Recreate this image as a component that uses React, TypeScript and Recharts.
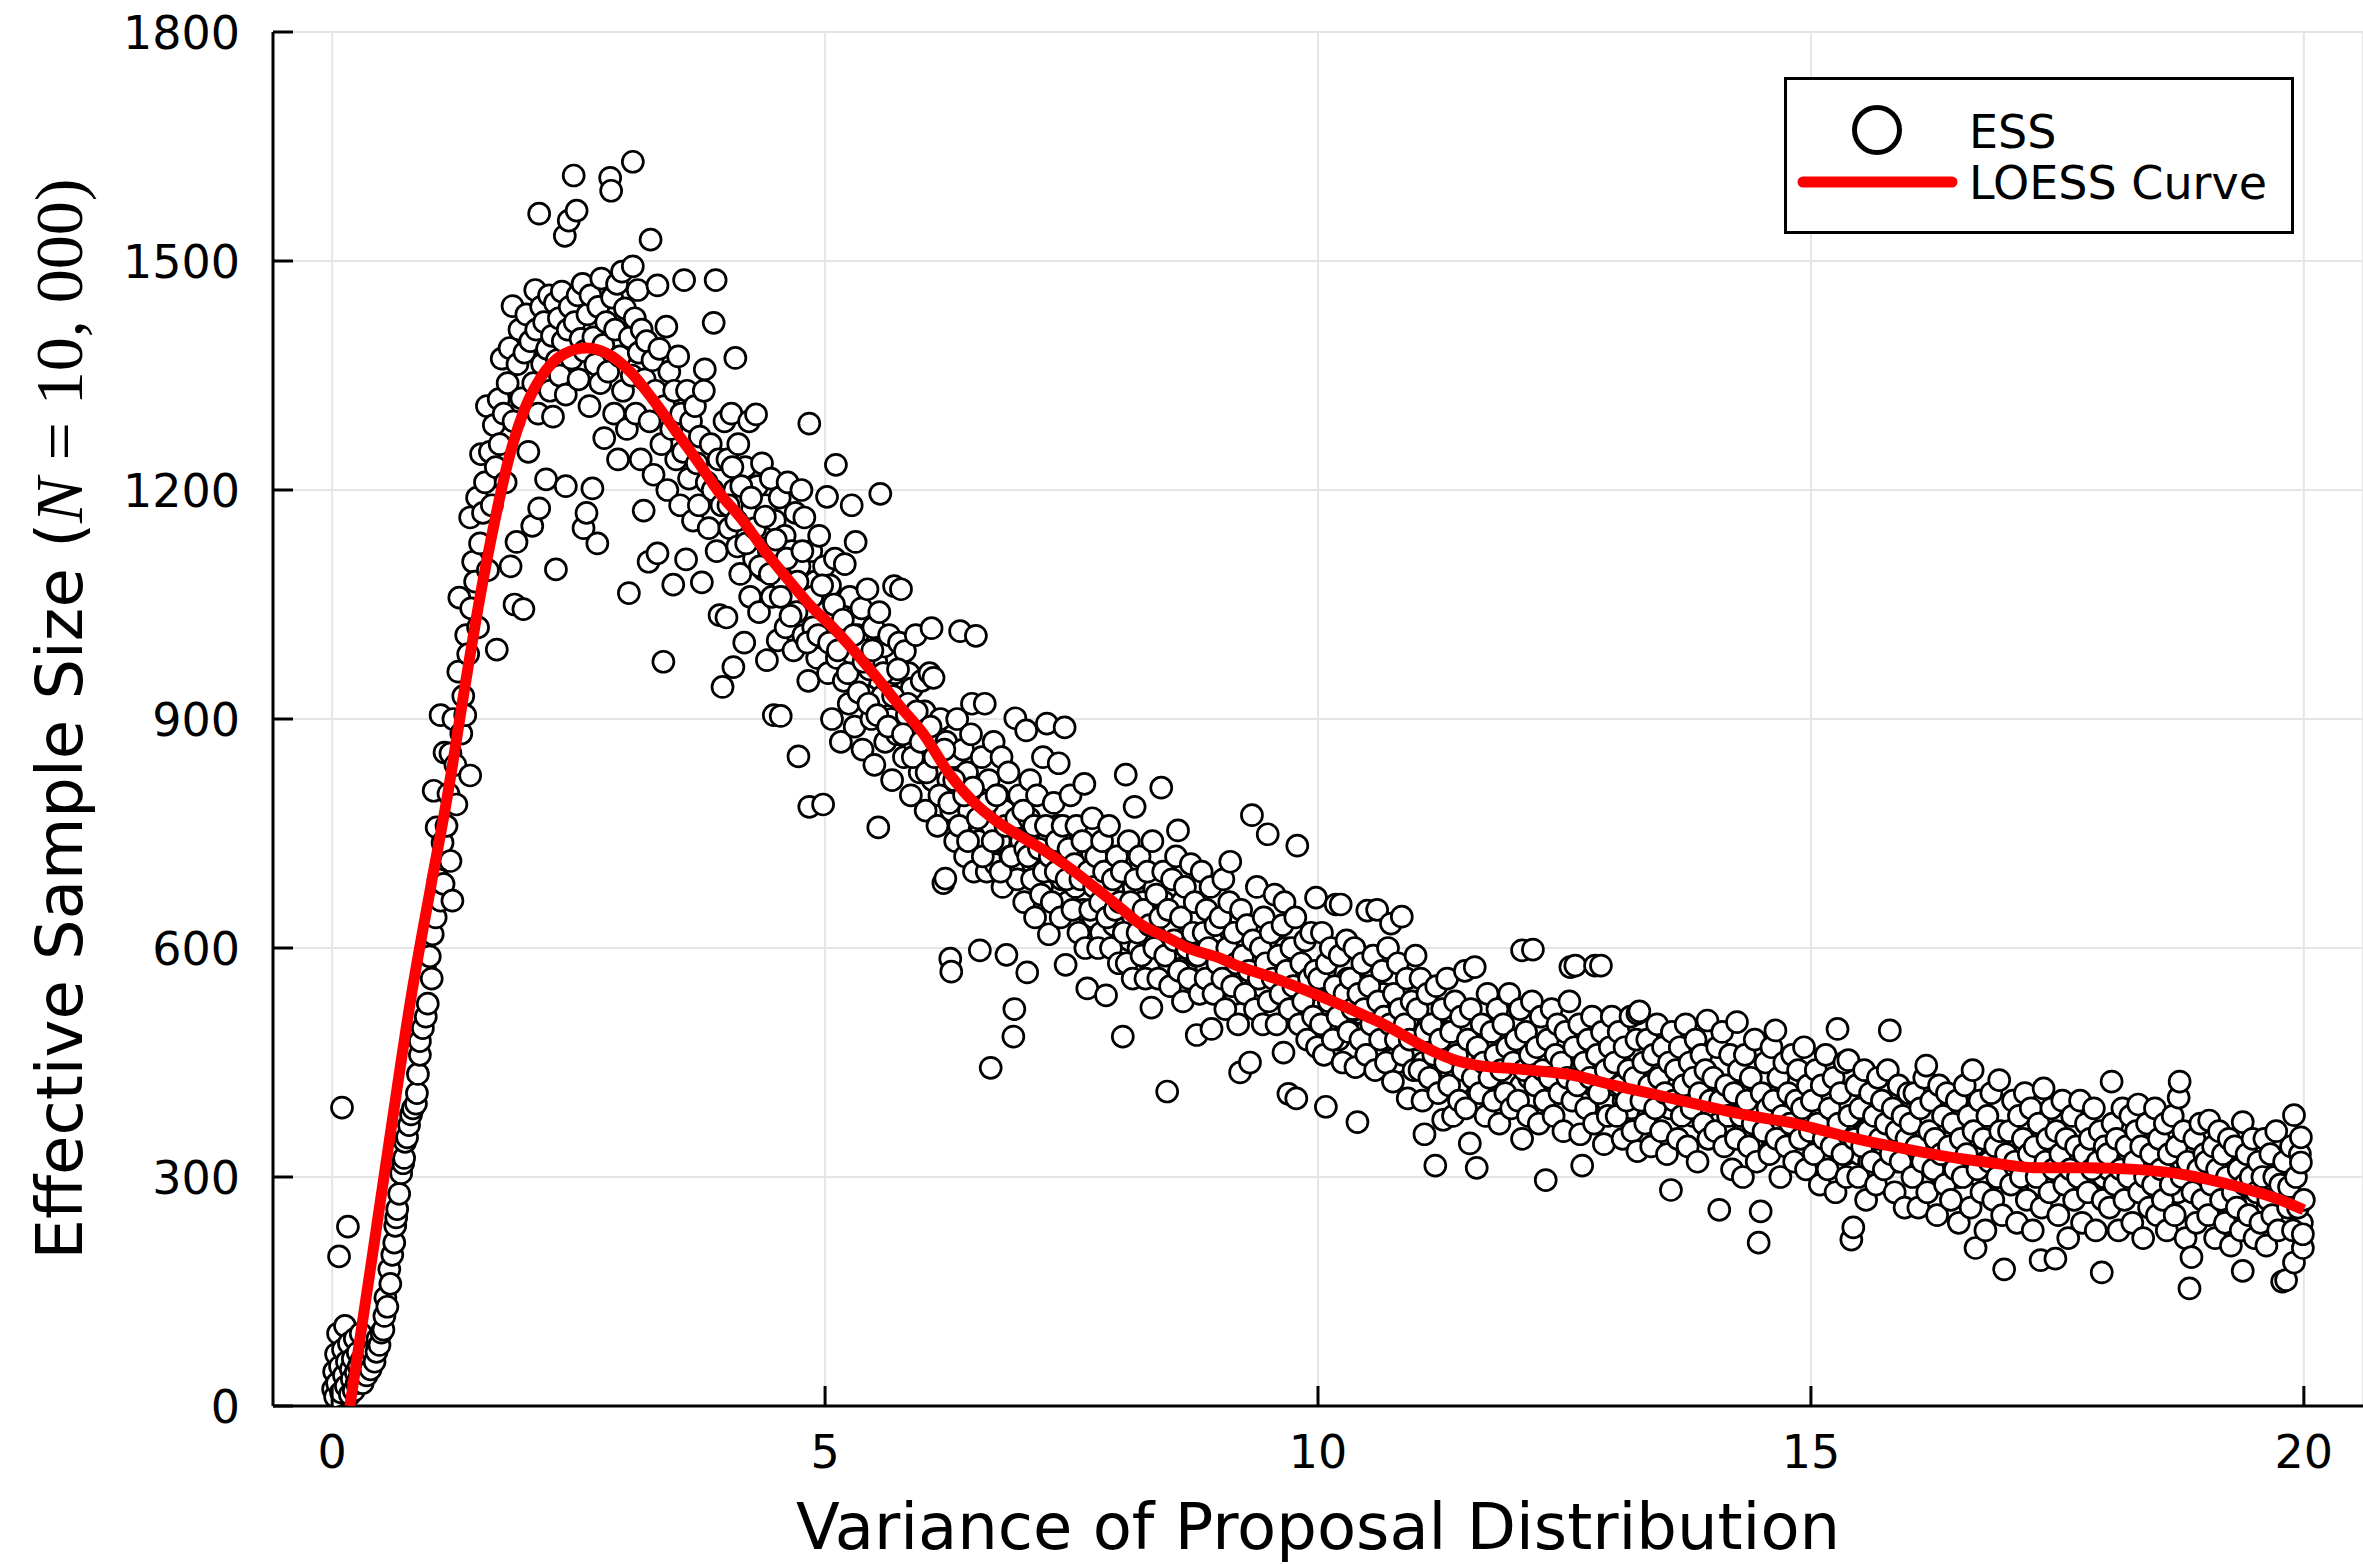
import React from "react";
import {
  ComposedChart,
  Scatter,
  XAxis,
  YAxis,
  CartesianGrid,
  Legend,
} from "recharts";

// ---- ESS observations: [proposal variance, effective sample size] ----
const essRise: [number, number][] = [
  [0.01, 22], [0.02, 45], [0.03, 12], [0.04, 68], [0.05, 30], [0.06, 95], [0.07, 196], [0.08, 52], [0.09, 18], [0.1, 391],
  [0.11, 74], [0.12, 40], [0.13, 105], [0.14, 26], [0.15, 58], [0.16, 235], [0.17, 82], [0.18, 15], [0.19, 48], [0.2, 35],
  [0.21, 62], [0.22, 20], [0.23, 88], [0.24, 44], [0.25, 30], [0.26, 70], [0.27, 52], [0.28, 38], [0.29, 95], [0.3, 60],
  [0.31, 30], [0.33, 52], [0.35, 40], [0.37, 62], [0.39, 48], [0.41, 70], [0.43, 58], [0.45, 71], [0.46, 88], [0.48, 80],
  [0.5, 96], [0.52, 100], [0.53, 118], [0.54, 142], [0.56, 130], [0.58, 179], [0.59, 160], [0.61, 198], [0.63, 214], [0.64, 236],
  [0.65, 247], [0.66, 258], [0.68, 278], [0.7, 305], [0.72, 318], [0.73, 325], [0.74, 346], [0.76, 352], [0.78, 368], [0.8, 382],
  [0.82, 390], [0.85, 396], [0.86, 410], [0.87, 435], [0.89, 460], [0.89, 478], [0.92, 495], [0.95, 510], [0.94, 574], [0.97, 527],
  [0.99, 589], [1.01, 560], [1.02, 618], [1.03, 806], [1.05, 640], [1.06, 758], [1.08, 690], [1.1, 662], [1.1, 905], [1.12, 738],
  [1.13, 684], [1.14, 856], [1.16, 760], [1.18, 802], [1.2, 714], [1.2, 855], [1.22, 662], [1.23, 900], [1.25, 840], [1.26, 788],
  [1.28, 962], [1.29, 1059], [1.31, 881], [1.33, 930], [1.35, 905], [1.36, 1010], [1.38, 985], [1.4, 826], [1.4, 1164], [1.41, 1045],
  [1.43, 1106], [1.45, 1080], [1.47, 1190], [1.48, 1020], [1.5, 1130], [1.51, 1247], [1.53, 1170], [1.55, 1210], [1.57, 1310], [1.58, 1095],
  [1.6, 1250], [1.62, 1180], [1.64, 1285], [1.66, 1230], [1.67, 991], [1.69, 1319], [1.7, 1260], [1.72, 1372], [1.74, 1300], [1.76, 1210],
  [1.78, 1340], [1.8, 1386], [1.81, 1100], [1.83, 1441], [1.84, 1290], [1.85, 1050], [1.87, 1132], [1.88, 1365], [1.9, 1410], [1.92, 1320],
  [1.94, 1044], [1.95, 1380], [1.97, 1430], [1.99, 1250],
];

const essPeak: [number, number][] = [
  [2.01, 1395], [2.03, 1153], [2.04, 1340], [2.06, 1462], [2.07, 1410], [2.09, 1300], [2.1, 1562], [2.1, 1176], [2.12, 1440], [2.13, 1365],
  [2.15, 1420], [2.17, 1214], [2.18, 1385], [2.2, 1455], [2.21, 1330], [2.23, 1402], [2.24, 1296], [2.26, 1445], [2.27, 1096], [2.28, 1370],
  [2.3, 1425], [2.31, 1350], [2.33, 1460], [2.34, 1395], [2.36, 1533], [2.37, 1205], [2.37, 1325], [2.39, 1410], [2.4, 1553], [2.41, 1440],
  [2.43, 1372], [2.45, 1612], [2.46, 1420], [2.48, 1566], [2.49, 1455], [2.5, 1345], [2.52, 1398], [2.54, 1470], [2.55, 1150], [2.56, 1382],
  [2.58, 1170], [2.59, 1430], [2.61, 1310], [2.62, 1455], [2.64, 1202], [2.65, 1400], [2.67, 1365], [2.69, 1130], [2.7, 1440], [2.72, 1340],
  [2.73, 1477], [2.75, 1390], [2.76, 1268], [2.78, 1420], [2.8, 1355], [2.82, 1609], [2.83, 1592], [2.84, 1452], [2.86, 1300], [2.87, 1410],
  [2.89, 1470], [2.9, 1240], [2.92, 1375], [2.94, 1486], [2.95, 1330], [2.97, 1438], [2.99, 1280],
  [3.01, 1065], [3.02, 1400], [3.04, 1350], [3.05, 1630], [3.05, 1493], [3.07, 1425], [3.08, 1300], [3.1, 1462], [3.11, 1380], [3.13, 1240],
  [3.14, 1410], [3.16, 1173], [3.17, 1345], [3.19, 1395], [3.21, 1106], [3.22, 1290], [3.23, 1528], [3.25, 1370], [3.26, 1220], [3.28, 1330],
  [3.3, 1468], [3.3, 1117], [3.32, 1385], [3.34, 1260], [3.36, 975], [3.37, 1310], [3.39, 1414], [3.4, 1200], [3.42, 1355], [3.44, 1280],
  [3.46, 1076], [3.47, 1330], [3.49, 1240], [3.51, 1375], [3.53, 1180], [3.54, 1300], [3.56, 1250], [3.57, 1475], [3.59, 1109], [3.6, 1330],
  [3.62, 1215], [3.64, 1290], [3.66, 1160], [3.68, 1310], [3.7, 1235], [3.72, 1180], [3.73, 1270], [3.75, 1079], [3.77, 1330], [3.78, 1358],
  [3.8, 1210], [3.82, 1150], [3.84, 1260], [3.86, 1200], [3.87, 1419], [3.89, 1475], [3.9, 1120], [3.92, 1240], [3.93, 1036], [3.95, 1180],
  [3.96, 942], [3.98, 1290],
];

const essDecay: [number, number][] = [
  [4.0, 1033], [4.01, 1240], [4.03, 1150], [4.05, 1300], [4.07, 968], [4.08, 1200], [4.09, 1373], [4.11, 1126], [4.12, 1260], [4.14, 1090],
  [4.16, 1180], [4.18, 1000], [4.19, 1230], [4.21, 1140], [4.23, 1290], [4.24, 1060], [4.26, 1175], [4.28, 1110], [4.3, 1299], [4.31, 1205],
  [4.33, 1040], [4.35, 1150], [4.36, 1235], [4.38, 1095], [4.4, 1180], [4.41, 977], [4.43, 1120], [4.45, 1215], [4.46, 1060], [4.48, 905],
  [4.49, 1160], [4.51, 1100], [4.52, 1003], [4.54, 1190], [4.55, 904], [4.57, 1080], [4.59, 1140], [4.6, 1020], [4.62, 1210], [4.64, 1060],
  [4.66, 1120], [4.68, 990], [4.7, 1170], [4.71, 1040], [4.73, 851], [4.74, 1100], [4.76, 1200], [4.78, 1010], [4.79, 1164], [4.81, 1070],
  [4.83, 950], [4.84, 1287], [4.84, 785], [4.86, 1120], [4.88, 1020], [4.9, 1080], [4.92, 980], [4.94, 1140], [4.96, 1050], [4.98, 788],
  [4.99, 1100],
  [5.01, 1040], [5.02, 1191], [5.03, 960], [5.05, 1075], [5.07, 900], [5.08, 1010], [5.1, 1110], [5.11, 1233], [5.12, 980], [5.14, 1050],
  [5.16, 870], [5.17, 1020], [5.19, 950], [5.2, 1103], [5.22, 1000], [5.24, 920], [5.25, 1060], [5.27, 1180], [5.28, 985], [5.3, 890],
  [5.31, 1132], [5.33, 1010], [5.35, 950], [5.37, 1045], [5.38, 860], [5.4, 990], [5.42, 930], [5.43, 1070], [5.45, 965], [5.47, 900],
  [5.49, 1020], [5.5, 840], [5.52, 975], [5.54, 758], [5.55, 1040], [5.56, 1195], [5.58, 930], [5.6, 995], [5.61, 870], [5.63, 950],
  [5.65, 1010], [5.67, 900], [5.68, 820], [5.7, 1074], [5.71, 960], [5.73, 880], [5.75, 1000], [5.77, 1070], [5.78, 925], [5.8, 850],
  [5.81, 989], [5.83, 905], [5.85, 960], [5.87, 800], [5.88, 940], [5.9, 870], [5.92, 1010], [5.94, 890], [5.96, 830], [5.98, 950],
  [6.01, 910], [6.02, 780], [6.04, 860], [6.06, 960], [6.08, 1019], [6.09, 820], [6.1, 954], [6.12, 880], [6.14, 760], [6.15, 840],
  [6.17, 900], [6.19, 800], [6.2, 685], [6.22, 691], [6.23, 870], [6.25, 820], [6.27, 586], [6.28, 569], [6.28, 780], [6.3, 850],
  [6.32, 740], [6.34, 900], [6.35, 810], [6.37, 1015], [6.38, 760], [6.4, 860], [6.42, 720], [6.44, 830], [6.46, 780], [6.48, 880],
  [6.49, 920], [6.51, 700], [6.53, 1009], [6.54, 800], [6.56, 740], [6.57, 597], [6.59, 850], [6.61, 770], [6.62, 920], [6.64, 700],
  [6.66, 820], [6.68, 443], [6.69, 760], [6.71, 870], [6.73, 710], [6.75, 800], [6.77, 740], [6.79, 850], [6.8, 680], [6.82, 780],
  [6.84, 591], [6.86, 830], [6.88, 720], [6.9, 760], [6.91, 484], [6.92, 520], [6.93, 901], [6.95, 690], [6.97, 800], [6.99, 740],
];

const essMid: [number, number][] = [
  [7.01, 780], [7.02, 660], [7.04, 885], [7.05, 568], [7.06, 720], [7.08, 820], [7.1, 690], [7.12, 760], [7.13, 640], [7.15, 800],
  [7.17, 730], [7.19, 670], [7.21, 850], [7.22, 700], [7.24, 760], [7.25, 894], [7.27, 618], [7.28, 720], [7.3, 660], [7.32, 790],
  [7.34, 700], [7.35, 740], [7.37, 842], [7.39, 640], [7.41, 760], [7.43, 889], [7.44, 578], [7.45, 690], [7.47, 730], [7.49, 800],
  [7.51, 650], [7.53, 710], [7.55, 760], [7.57, 620], [7.59, 690], [7.61, 740], [7.63, 815], [7.64, 600], [7.66, 547], [7.67, 700],
  [7.69, 650], [7.71, 770], [7.73, 680], [7.75, 720], [7.77, 600], [7.79, 660], [7.81, 740], [7.83, 700], [7.85, 538], [7.86, 640],
  [7.88, 760], [7.9, 600], [7.92, 690], [7.94, 650], [7.96, 720], [7.98, 580], [7.99, 660],
  [8.01, 700], [8.02, 484], [8.03, 620], [8.05, 827], [8.06, 580], [8.08, 740], [8.1, 660], [8.12, 560], [8.14, 785], [8.15, 690],
  [8.17, 620], [8.19, 720], [8.21, 590], [8.23, 650], [8.25, 560], [8.27, 700], [8.29, 630], [8.31, 522], [8.32, 740], [8.34, 600],
  [8.36, 670], [8.38, 560], [8.4, 640], [8.41, 810], [8.43, 700], [8.45, 590], [8.47, 412], [8.48, 650], [8.5, 550], [8.52, 690],
  [8.54, 610], [8.56, 720], [8.58, 754], [8.59, 570], [8.61, 640], [8.63, 530], [8.65, 680], [8.67, 600], [8.69, 560], [8.71, 710],
  [8.73, 620], [8.75, 660], [8.77, 486], [8.78, 590], [8.8, 540], [8.82, 700], [8.84, 620], [8.86, 560], [8.87, 650], [8.89, 600],
  [8.91, 680], [8.92, 494], [8.94, 540], [8.96, 630], [8.98, 580],
  [9.01, 640], [9.03, 560], [9.04, 690], [9.06, 520], [9.08, 600], [9.1, 660], [9.11, 713], [9.13, 550], [9.15, 620], [9.17, 580],
  [9.19, 500], [9.21, 437], [9.22, 650], [9.24, 590], [9.26, 540], [9.28, 630], [9.3, 570], [9.31, 450], [9.33, 774], [9.34, 610],
  [9.36, 520], [9.38, 680], [9.4, 560], [9.42, 600], [9.44, 500], [9.45, 640], [9.47, 580], [9.49, 749], [9.5, 530], [9.52, 620],
  [9.54, 560], [9.56, 670], [9.58, 500], [9.6, 590], [9.62, 540], [9.64, 630], [9.65, 463], [9.66, 660], [9.68, 570], [9.7, 409],
  [9.71, 520], [9.73, 600], [9.75, 550], [9.77, 640], [9.78, 403], [9.79, 734], [9.81, 500], [9.83, 580], [9.85, 530], [9.87, 610],
  [9.89, 480], [9.91, 560], [9.93, 620], [9.95, 510], [9.97, 570], [9.98, 666], [9.99, 470],
];

const essLate: [number, number][] = [
  [10.01, 560], [10.03, 500], [10.04, 620], [10.06, 460], [10.08, 392], [10.09, 580], [10.11, 530], [10.13, 600], [10.15, 480], [10.17, 550],
  [10.18, 657], [10.2, 510], [10.22, 590], [10.23, 657], [10.25, 450], [10.27, 540], [10.29, 610], [10.31, 490], [10.33, 560], [10.35, 520],
  [10.37, 600], [10.38, 444], [10.4, 372], [10.41, 540], [10.43, 480], [10.45, 580], [10.47, 520], [10.49, 460], [10.5, 649], [10.52, 550],
  [10.54, 500], [10.56, 590], [10.58, 440], [10.6, 650], [10.61, 530], [10.63, 480], [10.65, 570], [10.67, 510], [10.69, 450], [10.71, 600],
  [10.73, 500], [10.74, 632], [10.76, 425], [10.77, 540], [10.79, 480], [10.81, 580], [10.83, 520], [10.85, 641], [10.86, 460], [10.88, 500],
  [10.9, 560], [10.91, 403], [10.93, 480], [10.95, 530], [10.97, 440], [10.99, 590],
  [11.01, 520], [11.03, 440], [11.04, 560], [11.06, 400], [11.08, 356], [11.09, 490], [11.11, 540], [11.13, 430], [11.15, 500], [11.17, 460],
  [11.19, 315], [11.2, 550], [11.22, 410], [11.24, 480], [11.26, 520], [11.27, 375], [11.29, 450], [11.31, 560], [11.33, 420], [11.35, 490],
  [11.37, 380], [11.39, 530], [11.41, 460], [11.43, 400], [11.45, 510], [11.47, 440], [11.49, 570], [11.5, 390], [11.52, 480], [11.54, 344],
  [11.55, 520], [11.57, 430], [11.59, 575], [11.61, 312], [11.62, 470], [11.64, 410], [11.66, 500], [11.68, 450], [11.7, 380], [11.72, 540],
  [11.74, 430], [11.76, 490], [11.78, 400], [11.8, 460], [11.82, 520], [11.84, 370], [11.86, 440], [11.88, 500], [11.9, 410], [11.92, 470],
  [11.94, 540], [11.96, 390], [11.98, 450],
  [12.01, 480], [12.03, 400], [12.05, 520], [12.07, 350], [12.07, 597], [12.09, 440], [12.11, 490], [12.13, 380], [12.15, 460], [12.17, 530],
  [12.18, 598], [12.2, 420], [12.22, 470], [12.24, 370], [12.26, 510], [12.28, 440], [12.3, 400], [12.31, 296], [12.33, 480], [12.35, 430],
  [12.37, 520], [12.39, 380], [12.41, 460], [12.43, 500], [12.45, 410], [12.47, 450], [12.49, 360], [12.51, 490], [12.53, 430], [12.55, 530],
  [12.56, 575], [12.58, 400], [12.6, 470], [12.61, 577], [12.63, 420], [12.65, 500], [12.66, 356], [12.68, 315], [12.7, 450], [12.72, 390],
  [12.74, 480], [12.76, 430], [12.78, 510], [12.8, 370], [12.81, 577], [12.83, 460], [12.85, 410], [12.87, 577], [12.88, 490], [12.9, 343],
  [12.92, 440], [12.94, 380], [12.96, 470], [12.98, 510],
  [13.01, 450], [13.03, 380], [13.05, 490], [13.07, 420], [13.09, 350], [13.11, 470], [13.13, 400], [13.15, 440], [13.17, 510], [13.19, 360],
  [13.21, 430], [13.23, 480], [13.24, 334], [13.24, 514], [13.26, 517], [13.28, 400], [13.3, 450], [13.32, 370], [13.34, 480], [13.36, 420],
  [13.38, 340], [13.4, 460], [13.42, 390], [13.44, 500], [13.46, 430], [13.48, 360], [13.5, 470], [13.52, 410], [13.54, 330], [13.56, 450],
  [13.58, 283], [13.59, 490], [13.61, 400], [13.63, 440], [13.65, 350], [13.67, 470], [13.69, 380], [13.71, 420], [13.73, 500], [13.75, 340],
  [13.77, 450], [13.79, 390], [13.81, 430], [13.83, 480], [13.85, 320], [13.87, 410], [13.89, 460], [13.91, 370], [13.93, 440], [13.95, 505],
  [13.96, 350], [13.98, 400],
];

const essTail: [number, number][] = [
  [14.01, 430], [14.03, 360], [14.05, 470], [14.07, 257], [14.08, 400], [14.1, 490], [14.12, 340], [14.14, 420], [14.16, 380], [14.18, 460],
  [14.2, 310], [14.22, 410], [14.24, 350], [14.25, 503], [14.27, 440], [14.29, 380], [14.31, 300], [14.33, 460], [14.35, 400], [14.37, 340],
  [14.39, 430], [14.41, 370], [14.43, 480], [14.45, 320], [14.47, 214], [14.49, 255], [14.5, 410], [14.52, 360], [14.54, 450], [14.56, 390],
  [14.58, 330], [14.6, 470], [14.62, 400], [14.64, 492], [14.65, 350], [14.67, 430], [14.69, 300], [14.71, 380], [14.73, 450], [14.75, 340],
  [14.77, 410], [14.79, 370], [14.81, 460], [14.83, 320], [14.85, 400], [14.87, 440], [14.89, 350], [14.91, 390], [14.93, 470], [14.95, 310],
  [14.97, 420], [14.99, 360],
  [15.01, 400], [15.03, 330], [15.05, 440], [15.07, 370], [15.09, 290], [15.11, 420], [15.13, 350], [15.15, 460], [15.17, 310], [15.19, 390],
  [15.21, 340], [15.23, 430], [15.25, 280], [15.27, 494], [15.28, 370], [15.3, 410], [15.32, 330], [15.34, 450], [15.36, 300], [15.38, 453],
  [15.39, 380], [15.41, 218], [15.43, 234], [15.44, 350], [15.46, 420], [15.48, 300], [15.5, 390], [15.52, 340], [15.54, 440], [15.56, 270],
  [15.58, 360], [15.6, 410], [15.62, 320], [15.64, 380], [15.66, 290], [15.68, 430], [15.7, 350], [15.72, 400], [15.74, 310], [15.76, 370],
  [15.78, 440], [15.8, 492], [15.81, 330], [15.83, 390], [15.85, 280], [15.87, 360], [15.89, 420], [15.91, 320], [15.93, 380], [15.95, 260],
  [15.97, 350], [15.99, 410],
  [16.01, 370], [16.03, 300], [16.05, 410], [16.07, 340], [16.09, 260], [16.11, 390], [16.13, 320], [16.15, 430], [16.17, 446], [16.18, 280],
  [16.2, 360], [16.22, 400], [16.24, 310], [16.26, 350], [16.28, 250], [16.3, 420], [16.32, 330], [16.34, 380], [16.36, 290], [16.38, 410],
  [16.4, 340], [16.42, 270], [16.44, 370], [16.46, 310], [16.48, 400], [16.5, 240], [16.52, 350], [16.54, 300], [16.56, 420], [16.58, 330],
  [16.6, 380], [16.62, 260], [16.64, 440], [16.65, 360], [16.67, 207], [16.69, 310], [16.71, 400], [16.73, 280], [16.75, 350], [16.77, 230],
  [16.79, 380], [16.81, 320], [16.83, 410], [16.85, 270], [16.87, 340], [16.89, 300], [16.91, 427], [16.92, 360], [16.94, 250], [16.96, 179],
  [16.98, 330],
];

const essEnd: [number, number][] = [
  [17.01, 360], [17.03, 290], [17.05, 400], [17.07, 320], [17.09, 240], [17.11, 380], [17.13, 300], [17.15, 350], [17.17, 410], [17.19, 270],
  [17.21, 330], [17.23, 390], [17.25, 230], [17.27, 340], [17.29, 300], [17.31, 370], [17.33, 191], [17.34, 260], [17.36, 416], [17.38, 320],
  [17.4, 350], [17.42, 280], [17.44, 390], [17.46, 310], [17.48, 193], [17.49, 360], [17.51, 250], [17.53, 330], [17.55, 400], [17.57, 290],
  [17.59, 350], [17.61, 220], [17.63, 310], [17.65, 380], [17.67, 270], [17.69, 340], [17.71, 300], [17.73, 400], [17.75, 240], [17.77, 330],
  [17.79, 370], [17.81, 280], [17.83, 350], [17.85, 310], [17.87, 390], [17.89, 230], [17.91, 320], [17.93, 360], [17.95, 175], [17.96, 270],
  [17.98, 340],
  [18.01, 330], [18.03, 260], [18.05, 425], [18.06, 370], [18.08, 290], [18.1, 350], [18.12, 230], [18.14, 310], [18.16, 390], [18.18, 270],
  [18.2, 340], [18.22, 300], [18.24, 380], [18.26, 240], [18.28, 320], [18.3, 360], [18.32, 395], [18.33, 280], [18.35, 340], [18.37, 220],
  [18.39, 300], [18.41, 370], [18.43, 260], [18.45, 330], [18.47, 290], [18.49, 390], [18.51, 250], [18.53, 350], [18.55, 310], [18.57, 270],
  [18.59, 370], [18.61, 230], [18.63, 330], [18.65, 290], [18.67, 380], [18.69, 250], [18.71, 340], [18.73, 404], [18.74, 425], [18.76, 300],
  [18.78, 360], [18.8, 220], [18.82, 320], [18.84, 154], [18.86, 195], [18.87, 280], [18.89, 350], [18.91, 240], [18.93, 310], [18.95, 370],
  [18.97, 270], [18.99, 330],
  [19.01, 320], [19.03, 250], [19.04, 374], [19.06, 290], [19.08, 340], [19.1, 220], [19.12, 310], [19.14, 360], [19.16, 270], [19.18, 330],
  [19.2, 240], [19.22, 300], [19.24, 350], [19.26, 210], [19.28, 280], [19.3, 340], [19.32, 260], [19.34, 310], [19.36, 230], [19.38, 372],
  [19.38, 177], [19.4, 290], [19.42, 330], [19.44, 250], [19.46, 300], [19.48, 350], [19.5, 220], [19.52, 280], [19.54, 320], [19.56, 240],
  [19.58, 300], [19.6, 350], [19.62, 210], [19.64, 270], [19.66, 330], [19.68, 250], [19.7, 300], [19.72, 360], [19.74, 230], [19.76, 290],
  [19.78, 163], [19.8, 320], [19.82, 165], [19.84, 260], [19.85, 287], [19.87, 340], [19.89, 230], [19.9, 381], [19.9, 188], [19.92, 300],
  [19.94, 260], [19.96, 330], [19.97, 352], [19.97, 319], [19.99, 207], [19.99, 225], [20.0, 270],
];

// Densely packed runs sitting close to the trend (x >= 4)
const essCore: [number, number][] = [
  [4.02, 1180], [4.06, 1230], [4.1, 1160], [4.15, 1205], [4.2, 1130], [4.25, 1190], [4.29, 1150], [4.34, 1100], [4.39, 1165], [4.44, 1090],
  [4.5, 1135], [4.55, 1060], [4.61, 1110], [4.65, 1035], [4.72, 1080], [4.77, 1120], [4.82, 1000], [4.87, 1060], [4.93, 1010], [4.97, 1075],
  [5.04, 1000], [5.09, 1050], [5.13, 990], [5.18, 1030], [5.23, 960], [5.29, 1010], [5.34, 935], [5.39, 975], [5.44, 920], [5.48, 990],
  [5.53, 905], [5.59, 960], [5.64, 890], [5.69, 930], [5.74, 965], [5.79, 880], [5.84, 920], [5.89, 850], [5.93, 910], [5.97, 870],
  [6.03, 830], [6.07, 890], [6.11, 850], [6.16, 800], [6.21, 860], [6.26, 790], [6.31, 820], [6.36, 760], [6.41, 800], [6.45, 740],
  [6.5, 810], [6.55, 770], [6.6, 720], [6.65, 790], [6.7, 740], [6.74, 800], [6.78, 700], [6.83, 760], [6.89, 720], [6.94, 770],
  [7.03, 730], [7.07, 770], [7.11, 710], [7.16, 750], [7.2, 680], [7.26, 740], [7.31, 700], [7.36, 760], [7.4, 690], [7.46, 660],
  [7.5, 720], [7.54, 680], [7.58, 740], [7.62, 650], [7.68, 700], [7.72, 640], [7.76, 690], [7.8, 620], [7.87, 680], [7.93, 630],
  [8.04, 660], [8.09, 610], [8.13, 680], [8.18, 600], [8.22, 660], [8.26, 620], [8.3, 580], [8.35, 640], [8.39, 600], [8.44, 660],
  [8.49, 580], [8.53, 630], [8.57, 600], [8.62, 660], [8.66, 570], [8.7, 620], [8.76, 590], [8.81, 640], [8.85, 600], [8.93, 560],
  [9.02, 610], [9.07, 570], [9.12, 620], [9.16, 540], [9.2, 600], [9.25, 560], [9.29, 610], [9.35, 540], [9.39, 590], [9.43, 550],
  [9.48, 600], [9.53, 520], [9.57, 580], [9.61, 560], [9.67, 600], [9.72, 540], [9.76, 580], [9.82, 520], [9.88, 570], [9.94, 540],
  [10.02, 520], [10.07, 570], [10.12, 500], [10.16, 540], [10.21, 480], [10.26, 530], [10.3, 560], [10.34, 490], [10.39, 520], [10.44, 550],
  [10.48, 490], [10.53, 520], [10.57, 470], [10.62, 500], [10.66, 540], [10.7, 480], [10.75, 510], [10.8, 450], [10.87, 490], [10.94, 510],
  [11.02, 480], [11.07, 450], [11.12, 500], [11.16, 430], [11.21, 470], [11.25, 450], [11.3, 490], [11.34, 440], [11.38, 470], [11.42, 420],
  [11.48, 460], [11.53, 440], [11.58, 480], [11.63, 430], [11.67, 460], [11.73, 420], [11.77, 470], [11.83, 440], [11.89, 460], [11.95, 430],
  [12.02, 450], [12.06, 420], [12.1, 470], [12.14, 430], [12.19, 400], [12.23, 450], [12.27, 420], [12.32, 460], [12.36, 410], [12.4, 440],
  [12.46, 470], [12.5, 420], [12.54, 450], [12.59, 410], [12.64, 440], [12.69, 410], [12.73, 460], [12.79, 420], [12.86, 440], [12.93, 400],
  [13.02, 420], [13.06, 450], [13.1, 400], [13.14, 430], [13.18, 390], [13.22, 440], [13.27, 410], [13.31, 430], [13.35, 380], [13.39, 420],
  [13.43, 440], [13.47, 400], [13.53, 430], [13.57, 390], [13.62, 420], [13.68, 400], [13.74, 430], [13.8, 380], [13.86, 410], [13.92, 390],
  [14.02, 400], [14.06, 370], [14.11, 410], [14.15, 360], [14.19, 400], [14.23, 380], [14.28, 410], [14.32, 360], [14.36, 390], [14.42, 350],
  [14.46, 390], [14.51, 370], [14.55, 400], [14.61, 350], [14.66, 390], [14.7, 360], [14.76, 380], [14.82, 350], [14.88, 380], [14.94, 350],
  [15.02, 370], [15.06, 340], [15.1, 380], [15.14, 330], [15.18, 360], [15.22, 380], [15.26, 340], [15.31, 370], [15.35, 330], [15.4, 360],
  [15.45, 380], [15.49, 330], [15.55, 360], [15.59, 320], [15.65, 350], [15.69, 370], [15.75, 330], [15.82, 360], [15.88, 320], [15.94, 350],
  [16.02, 340], [16.06, 310], [16.1, 350], [16.14, 300], [16.19, 330], [16.23, 350], [16.27, 310], [16.31, 340], [16.35, 300], [16.41, 330],
  [16.45, 350], [16.49, 300], [16.55, 330], [16.61, 310], [16.66, 340], [16.72, 300], [16.78, 320], [16.84, 340], [16.9, 300], [16.95, 320],
  [17.02, 320], [17.06, 300], [17.1, 340], [17.14, 290], [17.18, 320], [17.22, 300], [17.26, 330], [17.3, 290], [17.35, 320], [17.41, 340],
  [17.45, 290], [17.5, 310], [17.56, 330], [17.62, 290], [17.66, 320], [17.72, 300], [17.78, 330], [17.84, 290], [17.9, 310], [17.97, 300],
  [18.02, 310], [18.07, 330], [18.11, 290], [18.15, 320], [18.19, 300], [18.23, 330], [18.27, 290], [18.31, 310], [18.36, 330], [18.4, 280],
  [18.44, 310], [18.5, 300], [18.56, 330], [18.62, 290], [18.68, 310], [18.72, 280], [18.77, 320], [18.83, 300], [18.9, 280], [18.96, 310],
  [19.02, 300], [19.07, 280], [19.11, 310], [19.15, 270], [19.19, 300], [19.23, 280], [19.27, 310], [19.31, 270], [19.35, 290], [19.41, 260],
  [19.45, 290], [19.51, 270], [19.57, 290], [19.63, 260], [19.69, 280], [19.75, 260], [19.81, 280], [19.86, 250], [19.93, 270], [19.98, 240],
];

// ---- LOESS fit: [proposal variance, smoothed ESS] ----
const loessCurve: [number, number][] = [
  [0.18, 0], [0.4, 190], [0.6, 365], [0.8, 535], [1.0, 680], [1.17, 800], [1.35, 945], [1.5, 1060], [1.65, 1160], [1.8, 1245],
  [1.95, 1305], [2.12, 1348], [2.35, 1378], [2.58, 1386], [2.8, 1378], [3.03, 1354], [3.25, 1319], [3.48, 1278], [3.71, 1237], [3.93, 1196],
  [4.16, 1161], [4.39, 1120], [4.61, 1085], [4.84, 1050], [5.07, 1021], [5.29, 990], [5.52, 955], [5.77, 915], [6.0, 880], [6.25, 830],
  [6.5, 792], [6.74, 766], [7.0, 745], [7.22, 728], [7.5, 703], [7.71, 682], [8.0, 652], [8.19, 632], [8.5, 612], [8.68, 600],
  [9.0, 587], [9.16, 578], [9.5, 563], [9.65, 556], [10.0, 538], [10.13, 531], [10.5, 510], [10.62, 503], [11.0, 476], [11.1, 469],
  [11.35, 455], [11.59, 447], [12.07, 441], [12.56, 434], [13.04, 419], [13.36, 410], [13.85, 395], [14.35, 381], [14.84, 370], [15.33, 354],
  [15.83, 340], [16.32, 328], [16.81, 319], [17.31, 312], [17.8, 312], [18.29, 310], [18.79, 303], [19.28, 289], [19.78, 269], [20.0, 257],
];

const xTicks = [0, 5, 10, 15, 20];
const yTicks = [0, 300, 600, 900, 1200, 1500, 1800];

const toPoints = (rows: [number, number][]) => rows.map(([x, y]) => ({ x, y }));
const essPoints = toPoints([
  ...essRise,
  ...essPeak,
  ...essDecay,
  ...essCore,
  ...essMid,
  ...essLate,
  ...essTail,
  ...essEnd,
]);
const loessPoints = toPoints(loessCurve);

const SANS = "'DejaVu Sans', sans-serif";
const SERIF = "'Liberation Serif', 'DejaVu Serif', serif";

const W = 2363;
const H = 1564;
const TOP = 32;
const LEFT = 273;
const BOTTOM_AREA = 158;

const EssMarker = (props: any) => {
  const { cx, cy } = props;
  if (cx == null || cy == null) return null;
  return <circle cx={cx} cy={cy} r={10.5} fill="#ffffff" stroke="#000000" strokeWidth={2.7} />;
};

// the fitted curve is drawn as a line only, without point markers
const NoMarker = () => <g />;

const XTick = (props: any) => {
  const { x, y, payload } = props;
  return (
    <g>
      <line x1={x} y1={y} x2={x} y2={y - 20} stroke="#000" strokeWidth={3} />
      <text x={x} y={y + 62} textAnchor="middle" fontFamily={SANS} fontSize={46} fill="#000">
        {payload.value}
      </text>
    </g>
  );
};

const YTick = (props: any) => {
  const { x, y, payload } = props;
  return (
    <g>
      <line x1={x} y1={y} x2={x + 20} y2={y} stroke="#000" strokeWidth={3} />
      <text x={x - 33} y={y + 17} textAnchor="end" fontFamily={SANS} fontSize={46} fill="#000">
        {payload.value}
      </text>
    </g>
  );
};

const XTitle = (props: any) => {
  const vb = props.viewBox || {};
  const cx = vb.width ? vb.x + vb.width / 2 : 1318;
  return (
    <text x={cx} y={1549} textAnchor="middle" fontFamily={SANS} fontSize={64} fill="#000">
      Variance of Proposal Distribution
    </text>
  );
};

const YTitle = (props: any) => {
  const vb = props.viewBox || {};
  const cy = vb.height ? vb.y + vb.height / 2 : 719;
  const bx = 82;
  return (
    <text
      x={bx}
      y={cy}
      transform={`rotate(-90, ${bx}, ${cy})`}
      textAnchor="middle"
      fontFamily={SANS}
      fontSize={64}
      fill="#000"
    >
      <tspan>Effective Sample Size (</tspan>
      <tspan fontFamily={SERIF} fontStyle="italic" fontSize={68}>N</tspan>
      <tspan fontFamily={SERIF} fontSize={68}>{" = 10, 000)"}</tspan>
    </text>
  );
};

const LegendBox = () => (
  <svg width={510} height={157} style={{ display: "block" }}>
    <rect x={1.5} y={1.5} width={507} height={154} fill="#ffffff" stroke="#000" strokeWidth={3} />
    <circle cx={93} cy={53} r={22.5} fill="#ffffff" stroke="#000" strokeWidth={5} />
    <line x1={19} y1={105} x2={168} y2={105} stroke="#ff0000" strokeWidth={11} strokeLinecap="round" />
    <text x={185} y={71} fontFamily={SANS} fontSize={46} fill="#000">ESS</text>
    <text x={185} y={122} fontFamily={SANS} fontSize={46} fill="#000">LOESS Curve</text>
  </svg>
);

export default function App() {
  return (
    <div style={{ position: "absolute", left: 0, top: 0, width: W, height: H, background: "#fff" }}>
      <ComposedChart width={W} height={H} margin={{ top: TOP, right: 0, bottom: 0, left: 0 }}>
        <CartesianGrid stroke="#e5e5e5" strokeWidth={2} />
        <XAxis
          type="number"
          dataKey="x"
          domain={[-0.6, 20.6]}
          ticks={xTicks}
          allowDataOverflow
          height={BOTTOM_AREA}
          tickLine={false}
          tickSize={0}
          tickMargin={0}
          axisLine={{ stroke: "#000", strokeWidth: 3 }}
          tick={<XTick />}
          label={<XTitle />}
          interval={0}
        />
        <YAxis
          type="number"
          dataKey="y"
          domain={[0, 1800]}
          ticks={yTicks}
          allowDataOverflow
          width={LEFT}
          tickLine={false}
          tickSize={0}
          tickMargin={0}
          axisLine={{ stroke: "#000", strokeWidth: 3 }}
          tick={<YTick />}
          label={<YTitle />}
          interval={0}
        />
        <Scatter
          name="ESS"
          data={essPoints}
          dataKey="y"
          shape={<EssMarker />}
          isAnimationActive={false}
        />
        <Scatter
          name="LOESS Curve"
          data={loessPoints}
          dataKey="y"
          fill="#ff0000"
          line={{ stroke: "#ff0000", strokeWidth: 11, strokeLinejoin: "round" }}
          lineJointType="monotoneX"
          shape={<NoMarker />}
          legendType="line"
          isAnimationActive={false}
        />
        <Legend
          layout="vertical"
          align="center"
          verticalAlign="middle"
          content={() => <LegendBox />}
          wrapperStyle={{ position: "absolute", left: 1784, top: 77, width: 510, height: 157 }}
        />
      </ComposedChart>
    </div>
  );
}
